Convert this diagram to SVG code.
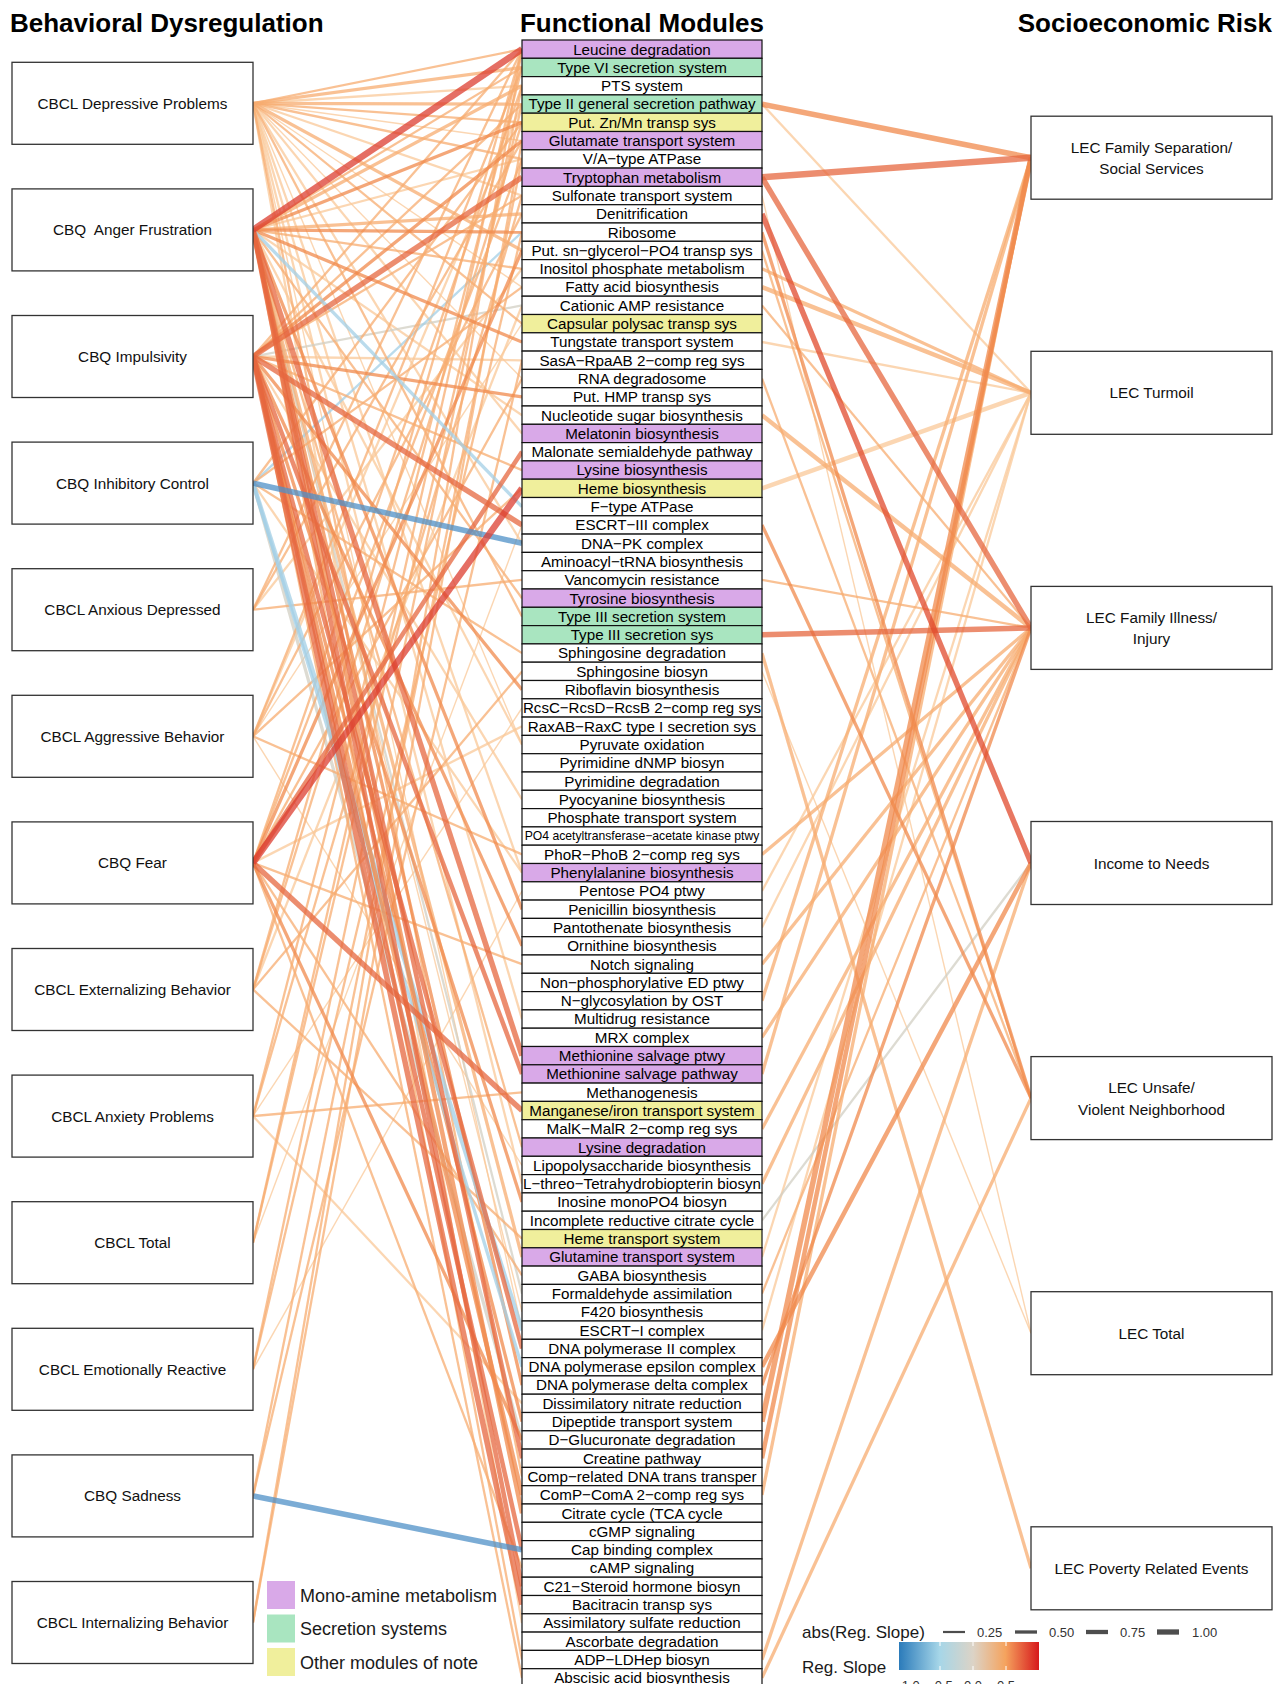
<svg xmlns="http://www.w3.org/2000/svg" width="1275" height="1684" viewBox="0 0 1275 1684">
<defs>
<linearGradient id="slopeGrad" x1="0" y1="0" x2="1" y2="0">
<stop offset="0" stop-color="#2b7bba"/>
<stop offset="0.29" stop-color="#a6d6e8"/>
<stop offset="0.53" stop-color="#dcd3c6"/>
<stop offset="0.76" stop-color="#f5a35e"/>
<stop offset="1" stop-color="#d7191c"/>
</linearGradient>
</defs>
<style>
.bx{fill:#fff;stroke:#333;stroke-width:1.3}
.bt{font-family:"Liberation Sans",Arial,sans-serif;font-size:15.3px;fill:#111;text-anchor:middle}
.ttl{font-family:"Liberation Sans",Arial,sans-serif;font-weight:bold;font-size:26px;fill:#000}
.md rect{stroke:#111;stroke-width:1.2}
.mt{font-family:"Liberation Sans",Arial,sans-serif;font-size:15.2px;fill:#000;text-anchor:middle}
.pu{fill:#d9a9e8}.gr{fill:#a9e5c0}.ye{fill:#f0ef9c}.wh{fill:#fff}
#connectors path{fill:none;stroke-opacity:0.75}
.c1{stroke:#fac898}.c2{stroke:#f7ac70}.c3{stroke:#f08a4c}.c4{stroke:#e5673f}.c5{stroke:#dc3d30}
.b1{stroke:#a3cfe5}.b2{stroke:#4f90c7}.g{stroke:#d2cfc3}
.w1{stroke-width:1.4}.w2{stroke-width:2.3}.w3{stroke-width:3.3}.w4{stroke-width:4.5}.w5{stroke-width:5.5}.w6{stroke-width:6.5}
.lg{font-family:"Liberation Sans",Arial,sans-serif;font-size:18px;fill:#1a1a1a}
.lg2{font-family:"Liberation Sans",Arial,sans-serif;font-size:17px;fill:#1a1a1a}
.lg3{font-family:"Liberation Sans",Arial,sans-serif;font-size:13px;fill:#333}
</style>
<rect width="1275" height="1684" fill="#fff"/>
<text class="ttl" x="10" y="31.5">Behavioral Dysregulation</text>
<text class="ttl" x="642" y="31.5" text-anchor="middle">Functional Modules</text>
<text class="ttl" x="1272" y="31.5" text-anchor="end">Socioeconomic Risk</text>

<g id="connectors">
<path class="c1 w2" d="M253 103.3L522 85.8"/>
<path class="c1 w1" d="M253 103.3L522 140.7"/>
<path class="c1 w2" d="M253 103.3L522 195.6"/>
<path class="c1 w1" d="M253 103.3L522 287.1"/>
<path class="c1 w1" d="M253 103.3L522 378.6"/>
<path class="c1 w2" d="M253 103.3L522 543.3"/>
<path class="c1 w1" d="M253 103.3L522 744.6"/>
<path class="c1 w2" d="M253 103.3L522 1019.1"/>
<path class="c1 w1" d="M253 103.3L522 1330.2"/>
<path class="c1 w2" d="M253 103.3L522 1623"/>
<path class="c1 w2" d="M253 229.9L522 159"/>
<path class="c1 w2" d="M253 609.7L522 268.8"/>
<path class="c1 w2" d="M253 736.3L522 104.1"/>
<path class="c1 w1" d="M253 736.3L522 323.7"/>
<path class="c1 w1" d="M253 736.3L522 1165.5"/>
<path class="c1 w2" d="M253 862.9L522 726.3"/>
<path class="c1 w2" d="M253 989.5L522 305.4"/>
<path class="c1 w1" d="M253 1116.1L522 708"/>
<path class="c1 w2" d="M253 1116.1L522 1403.4"/>
<path class="c1 w1" d="M253 1242.7L522 525"/>
<path class="c1 w1" d="M253 1369.3L522 891"/>
<path class="c1 w2" d="M253 103.3L522 433.5"/>
<path class="c1 w2" d="M253 103.3L522 872.7"/>
<path class="c1 w2" d="M253 103.3L522 1183.8"/>
<path class="c1 w2" d="M253 229.9L522 415.2"/>
<path class="c1 w2" d="M253 229.9L522 744.6"/>
<path class="c1 w1" d="M253 229.9L522 1311.9"/>
<path class="c1 w2" d="M253 356.5L522 360.3"/>
<path class="c1 w2" d="M253 356.5L522 799.5"/>
<path class="c1 w2" d="M253 483.1L522 872.7"/>
<path class="g w2" d="M253 356.5L522 305.4"/>
<path class="g w2" d="M253 229.9L522 1293.6"/>
<path class="g w3" d="M253 483.1L522 1440"/>
<path class="b1 w2" d="M253 483.1L522 232.2"/>
<path class="c2 w2" d="M253 103.3L522 49.2"/>
<path class="c2 w3" d="M253 103.3L522 67.5"/>
<path class="c2 w3" d="M253 103.3L522 104.1"/>
<path class="c2 w2" d="M253 103.3L522 122.4"/>
<path class="c2 w2" d="M253 103.3L522 159"/>
<path class="c2 w3" d="M253 103.3L522 250.5"/>
<path class="c2 w2" d="M253 103.3L522 323.7"/>
<path class="c2 w2" d="M253 103.3L522 616.5"/>
<path class="c2 w2" d="M253 103.3L522 1476.6"/>
<path class="c2 w2" d="M253 229.9L522 67.5"/>
<path class="c2 w3" d="M253 229.9L522 85.8"/>
<path class="c2 w3" d="M253 229.9L522 213.9"/>
<path class="c2 w2" d="M253 229.9L522 268.8"/>
<path class="c2 w2" d="M253 229.9L522 598.2"/>
<path class="c2 w2" d="M253 229.9L522 1147.2"/>
<path class="c2 w3" d="M253 229.9L522 1257"/>
<path class="c2 w2" d="M253 229.9L522 1659.6"/>
<path class="c2 w2" d="M253 356.5L522 49.2"/>
<path class="c2 w2" d="M253 356.5L522 104.1"/>
<path class="c2 w2" d="M253 356.5L522 195.6"/>
<path class="c2 w2" d="M253 356.5L522 470.1"/>
<path class="c2 w2" d="M253 356.5L522 1677.9"/>
<path class="c2 w2" d="M253 483.1L522 122.4"/>
<path class="c2 w2" d="M253 483.1L522 287.1"/>
<path class="c2 w2" d="M253 483.1L522 653.1"/>
<path class="c2 w2" d="M253 609.7L522 49.2"/>
<path class="c2 w2" d="M253 609.7L522 140.7"/>
<path class="c2 w2" d="M253 609.7L522 579.9"/>
<path class="c2 w2" d="M253 736.3L522 67.5"/>
<path class="c2 w2" d="M253 736.3L522 213.9"/>
<path class="c2 w2" d="M253 736.3L522 488.4"/>
<path class="c2 w2" d="M253 736.3L522 854.4"/>
<path class="c2 w2" d="M253 862.9L522 85.8"/>
<path class="c2 w2" d="M253 862.9L522 159"/>
<path class="c2 w2" d="M253 862.9L522 378.6"/>
<path class="c2 w2" d="M253 862.9L522 964.2"/>
<path class="c2 w2" d="M253 862.9L522 1275.3"/>
<path class="c2 w2" d="M253 862.9L522 1568.1"/>
<path class="c2 w2" d="M253 989.5L522 49.2"/>
<path class="c2 w2" d="M253 989.5L522 122.4"/>
<path class="c2 w2" d="M253 989.5L522 671.4"/>
<path class="c2 w2" d="M253 989.5L522 1238.7"/>
<path class="c2 w2" d="M253 1116.1L522 67.5"/>
<path class="c2 w2" d="M253 1116.1L522 195.6"/>
<path class="c2 w2" d="M253 1116.1L522 1092.3"/>
<path class="c2 w2" d="M253 1242.7L522 49.2"/>
<path class="c2 w2" d="M253 1242.7L522 104.1"/>
<path class="c2 w2" d="M253 1369.3L522 85.8"/>
<path class="c2 w2" d="M253 1369.3L522 232.2"/>
<path class="c2 w2" d="M253 1495.9L522 360.3"/>
<path class="c2 w2" d="M253 1495.9L522 159"/>
<path class="c2 w2" d="M253 1622.5L522 49.2"/>
<path class="c2 w2" d="M253 1622.5L522 140.7"/>
<path class="c3 w3" d="M253 229.9L522 122.4"/>
<path class="c3 w3" d="M253 229.9L522 232.2"/>
<path class="c3 w3" d="M253 229.9L522 342"/>
<path class="c3 w3" d="M253 229.9L522 909.3"/>
<path class="c3 w3" d="M253 229.9L522 1385.1"/>
<path class="c3 w3" d="M253 356.5L522 140.7"/>
<path class="c3 w3" d="M253 356.5L522 396.9"/>
<path class="c3 w3" d="M253 356.5L522 689.7"/>
<path class="c3 w3" d="M253 356.5L522 945.9"/>
<path class="c3 w3" d="M253 356.5L522 1202.1"/>
<path class="c3 w3" d="M253 356.5L522 1421.7"/>
<path class="c3 w3" d="M253 862.9L522 250.5"/>
<path class="c3 w3" d="M253 862.9L522 1440"/>
<path class="b1 w3" d="M253 229.9L522 506.7"/>
<path class="b1 w4" d="M253 483.1L522 1330.2"/>
<path class="b1 w3" d="M253 483.1L522 1366.8"/>
<path class="c3 w4" d="M253 229.9L522 1513.2"/>
<path class="c3 w4" d="M253 356.5L522 1494.9"/>
<path class="c4 w4" d="M253 229.9L522 1458.3"/>
<path class="c4 w4" d="M253 229.9L522 1586.4"/>
<path class="c4 w4" d="M253 356.5L522 1074"/>
<path class="c4 w4" d="M253 356.5L522 1348.5"/>
<path class="c4 w4" d="M253 356.5L522 1549.8"/>
<path class="c4 w5" d="M253 356.5L522 1604.7"/>
<path class="c4 w5" d="M253 229.9L522 1055.7"/>
<path class="c4 w4" d="M253 862.9L522 451.8"/>
<path class="c4 w5" d="M253 862.9L522 1110.6"/>
<path class="c4 w5" d="M253 356.5L522 177.3"/>
<path class="c4 w5" d="M253 356.5L522 525"/>
<path class="b2 w5" d="M253 483.1L522 543.3"/>
<path class="b2 w5" d="M253 1495.9L522 1549.8"/>
<path class="c5 w6" d="M253 229.9L522 49.2"/>
<path class="c5 w6" d="M253 862.9L522 488.4"/>
<path class="c1 w2" d="M762 104.1L1031 392.8"/>
<path class="c1 w1" d="M762 195.6L1031 1333.2"/>
<path class="c1 w2" d="M762 342L1031 392.8"/>
<path class="c1 w1" d="M762 671.4L1031 1333.2"/>
<path class="c1 w2" d="M762 891L1031 392.8"/>
<path class="c1 w2" d="M762 927.6L1031 392.8"/>
<path class="c1 w2" d="M762 1257L1031 392.8"/>
<path class="c1 w2" d="M762 1330.2L1031 392.8"/>
<path class="c1 w4" d="M762 488.4L1031 392.8"/>
<path class="g w2" d="M762 1220.4L1031 863"/>
<path class="c2 w2" d="M762 250.5L1031 1098.1"/>
<path class="c2 w3" d="M762 268.8L1031 392.8"/>
<path class="c2 w4" d="M762 287.1L1031 392.8"/>
<path class="c2 w2" d="M762 305.4L1031 627.9"/>
<path class="c2 w2" d="M762 378.6L1031 1098.1"/>
<path class="c2 w4" d="M762 415.2L1031 627.9"/>
<path class="c2 w2" d="M762 579.9L1031 627.9"/>
<path class="c2 w3" d="M762 653.1L1031 1568.3"/>
<path class="c2 w3" d="M762 854.4L1031 627.9"/>
<path class="c2 w3" d="M762 964.2L1031 627.9"/>
<path class="c2 w3" d="M762 1000.8L1031 157.7"/>
<path class="c2 w3" d="M762 1037.4L1031 627.9"/>
<path class="c2 w3" d="M762 1074L1031 157.7"/>
<path class="c2 w3" d="M762 1128.9L1031 627.9"/>
<path class="c2 w3" d="M762 1183.8L1031 627.9"/>
<path class="c2 w2" d="M762 1293.6L1031 627.9"/>
<path class="c2 w3" d="M762 1494.9L1031 157.7"/>
<path class="c2 w3" d="M762 1659.6L1031 863"/>
<path class="c2 w3" d="M762 1677.9L1031 1098.1"/>
<path class="c3 w3" d="M762 232.2L1031 1098.1"/>
<path class="c3 w3" d="M762 525L1031 1098.1"/>
<path class="c3 w3" d="M762 1385.1L1031 627.9"/>
<path class="c3 w4" d="M762 1366.8L1031 863"/>
<path class="c3 w4" d="M762 1458.3L1031 157.7"/>
<path class="c3 w5" d="M762 1421.7L1031 157.7"/>
<path class="c3 w5" d="M762 104.1L1031 157.7"/>
<path class="c4 w5" d="M762 177.3L1031 627.9"/>
<path class="c4 w5" d="M762 634.8L1031 627.9"/>
<path class="c4 w6" d="M762 177.3L1031 157.7"/>
<path class="c5 w5" d="M762 213.9L1031 863" style="stroke:#e04a2c"/>
</g>

<g id="bd-depressive"><rect class="bx" x="12" y="62.3" width="241" height="82"/><text class="bt" x="132.5" y="108.7">CBCL Depressive Problems</text></g>
<g id="bd-anger"><rect class="bx" x="12" y="188.9" width="241" height="82"/><text class="bt" x="132.5" y="235.3" xml:space="preserve">CBQ  Anger Frustration</text></g>
<g id="bd-impulsivity"><rect class="bx" x="12" y="315.5" width="241" height="82"/><text class="bt" x="132.5" y="361.9">CBQ Impulsivity</text></g>
<g id="bd-inhibitory"><rect class="bx" x="12" y="442.1" width="241" height="82"/><text class="bt" x="132.5" y="488.5">CBQ Inhibitory Control</text></g>
<g id="bd-anxious"><rect class="bx" x="12" y="568.7" width="241" height="82"/><text class="bt" x="132.5" y="615.1">CBCL Anxious Depressed</text></g>
<g id="bd-aggressive"><rect class="bx" x="12" y="695.3" width="241" height="82"/><text class="bt" x="132.5" y="741.7">CBCL Aggressive Behavior</text></g>
<g id="bd-fear"><rect class="bx" x="12" y="821.9" width="241" height="82"/><text class="bt" x="132.5" y="868.3">CBQ Fear</text></g>
<g id="bd-externalizing"><rect class="bx" x="12" y="948.5" width="241" height="82"/><text class="bt" x="132.5" y="994.9">CBCL Externalizing Behavior</text></g>
<g id="bd-anxiety"><rect class="bx" x="12" y="1075.1" width="241" height="82"/><text class="bt" x="132.5" y="1121.5">CBCL Anxiety Problems</text></g>
<g id="bd-total"><rect class="bx" x="12" y="1201.7" width="241" height="82"/><text class="bt" x="132.5" y="1248.1">CBCL Total</text></g>
<g id="bd-emotional"><rect class="bx" x="12" y="1328.3" width="241" height="82"/><text class="bt" x="132.5" y="1374.7">CBCL Emotionally Reactive</text></g>
<g id="bd-sadness"><rect class="bx" x="12" y="1454.9" width="241" height="82"/><text class="bt" x="132.5" y="1501.3">CBQ Sadness</text></g>
<g id="bd-internalizing"><rect class="bx" x="12" y="1581.5" width="241" height="82"/><text class="bt" x="132.5" y="1627.9">CBCL Internalizing Behavior</text></g>

<g id="se-family-separation"><rect class="bx" x="1031" y="116.2" width="241" height="83"/><text class="bt" x="1151.5" y="152.8">LEC Family Separation/</text><text class="bt" x="1151.5" y="174.2">Social Services</text></g>
<g id="se-turmoil"><rect class="bx" x="1031" y="351.3" width="241" height="83"/><text class="bt" x="1151.5" y="398.3">LEC Turmoil</text></g>
<g id="se-family-illness"><rect class="bx" x="1031" y="586.4" width="241" height="83"/><text class="bt" x="1151.5" y="622.8">LEC Family Illness/</text><text class="bt" x="1151.5" y="644.1">Injury</text></g>
<g id="se-income"><rect class="bx" x="1031" y="821.5" width="241" height="83"/><text class="bt" x="1151.5" y="868.5">Income to Needs</text></g>
<g id="se-unsafe"><rect class="bx" x="1031" y="1056.6" width="241" height="83"/><text class="bt" x="1151.5" y="1092.9">LEC Unsafe/</text><text class="bt" x="1151.5" y="1114.5">Violent Neighborhood</text></g>
<g id="se-lec-total"><rect class="bx" x="1031" y="1291.7" width="241" height="83"/><text class="bt" x="1151.5" y="1338.7">LEC Total</text></g>
<g id="se-poverty"><rect class="bx" x="1031" y="1526.8" width="241" height="83"/><text class="bt" x="1151.5" y="1573.8">LEC Poverty Related Events</text></g>

<g id="fm-00" class="md"><rect class="pu" x="522" y="40" width="240" height="18.3"/><text class="mt" x="642" y="54.5">Leucine degradation</text></g>
<g id="fm-01" class="md"><rect class="gr" x="522" y="58.3" width="240" height="18.3"/><text class="mt" x="642" y="72.8">Type VI secretion system</text></g>
<g id="fm-02" class="md"><rect class="wh" x="522" y="76.6" width="240" height="18.3"/><text class="mt" x="642" y="91.1">PTS system</text></g>
<g id="fm-03" class="md"><rect class="gr" x="522" y="94.9" width="240" height="18.3"/><text class="mt" x="642" y="109.4">Type II general secretion pathway</text></g>
<g id="fm-04" class="md"><rect class="ye" x="522" y="113.2" width="240" height="18.3"/><text class="mt" x="642" y="127.7">Put. Zn/Mn transp sys</text></g>
<g id="fm-05" class="md"><rect class="pu" x="522" y="131.5" width="240" height="18.3"/><text class="mt" x="642" y="146">Glutamate transport system</text></g>
<g id="fm-06" class="md"><rect class="wh" x="522" y="149.8" width="240" height="18.3"/><text class="mt" x="642" y="164.3">V/A−type ATPase</text></g>
<g id="fm-07" class="md"><rect class="pu" x="522" y="168.1" width="240" height="18.3"/><text class="mt" x="642" y="182.6">Tryptophan metabolism</text></g>
<g id="fm-08" class="md"><rect class="wh" x="522" y="186.4" width="240" height="18.3"/><text class="mt" x="642" y="200.9">Sulfonate transport system</text></g>
<g id="fm-09" class="md"><rect class="wh" x="522" y="204.7" width="240" height="18.3"/><text class="mt" x="642" y="219.2">Denitrification</text></g>
<g id="fm-10" class="md"><rect class="wh" x="522" y="223" width="240" height="18.3"/><text class="mt" x="642" y="237.5">Ribosome</text></g>
<g id="fm-11" class="md"><rect class="wh" x="522" y="241.3" width="240" height="18.3"/><text class="mt" x="642" y="255.8">Put. sn−glycerol−PO4 transp sys</text></g>
<g id="fm-12" class="md"><rect class="wh" x="522" y="259.6" width="240" height="18.3"/><text class="mt" x="642" y="274.1">Inositol phosphate metabolism</text></g>
<g id="fm-13" class="md"><rect class="wh" x="522" y="277.9" width="240" height="18.3"/><text class="mt" x="642" y="292.4">Fatty acid biosynthesis</text></g>
<g id="fm-14" class="md"><rect class="wh" x="522" y="296.2" width="240" height="18.3"/><text class="mt" x="642" y="310.7">Cationic AMP resistance</text></g>
<g id="fm-15" class="md"><rect class="ye" x="522" y="314.5" width="240" height="18.3"/><text class="mt" x="642" y="329">Capsular polysac transp sys</text></g>
<g id="fm-16" class="md"><rect class="wh" x="522" y="332.8" width="240" height="18.3"/><text class="mt" x="642" y="347.3">Tungstate transport system</text></g>
<g id="fm-17" class="md"><rect class="wh" x="522" y="351.1" width="240" height="18.3"/><text class="mt" x="642" y="365.6">SasA−RpaAB 2−comp reg sys</text></g>
<g id="fm-18" class="md"><rect class="wh" x="522" y="369.4" width="240" height="18.3"/><text class="mt" x="642" y="383.9">RNA degradosome</text></g>
<g id="fm-19" class="md"><rect class="wh" x="522" y="387.7" width="240" height="18.3"/><text class="mt" x="642" y="402.2">Put. HMP transp sys</text></g>
<g id="fm-20" class="md"><rect class="wh" x="522" y="406" width="240" height="18.3"/><text class="mt" x="642" y="420.5">Nucleotide sugar biosynthesis</text></g>
<g id="fm-21" class="md"><rect class="pu" x="522" y="424.3" width="240" height="18.3"/><text class="mt" x="642" y="438.8">Melatonin biosynthesis</text></g>
<g id="fm-22" class="md"><rect class="wh" x="522" y="442.6" width="240" height="18.3"/><text class="mt" x="642" y="457.1">Malonate semialdehyde pathway</text></g>
<g id="fm-23" class="md"><rect class="pu" x="522" y="460.9" width="240" height="18.3"/><text class="mt" x="642" y="475.4">Lysine biosynthesis</text></g>
<g id="fm-24" class="md"><rect class="ye" x="522" y="479.2" width="240" height="18.3"/><text class="mt" x="642" y="493.7">Heme biosynthesis</text></g>
<g id="fm-25" class="md"><rect class="wh" x="522" y="497.5" width="240" height="18.3"/><text class="mt" x="642" y="512">F−type ATPase</text></g>
<g id="fm-26" class="md"><rect class="wh" x="522" y="515.8" width="240" height="18.3"/><text class="mt" x="642" y="530.3">ESCRT−III complex</text></g>
<g id="fm-27" class="md"><rect class="wh" x="522" y="534.1" width="240" height="18.3"/><text class="mt" x="642" y="548.6">DNA−PK complex</text></g>
<g id="fm-28" class="md"><rect class="wh" x="522" y="552.4" width="240" height="18.3"/><text class="mt" x="642" y="566.9">Aminoacyl−tRNA biosynthesis</text></g>
<g id="fm-29" class="md"><rect class="wh" x="522" y="570.7" width="240" height="18.3"/><text class="mt" x="642" y="585.2">Vancomycin resistance</text></g>
<g id="fm-30" class="md"><rect class="pu" x="522" y="589" width="240" height="18.3"/><text class="mt" x="642" y="603.5">Tyrosine biosynthesis</text></g>
<g id="fm-31" class="md"><rect class="gr" x="522" y="607.3" width="240" height="18.3"/><text class="mt" x="642" y="621.8">Type III secretion system</text></g>
<g id="fm-32" class="md"><rect class="gr" x="522" y="625.6" width="240" height="18.3"/><text class="mt" x="642" y="640.1">Type III secretion sys</text></g>
<g id="fm-33" class="md"><rect class="wh" x="522" y="643.9" width="240" height="18.3"/><text class="mt" x="642" y="658.4">Sphingosine degradation</text></g>
<g id="fm-34" class="md"><rect class="wh" x="522" y="662.2" width="240" height="18.3"/><text class="mt" x="642" y="676.7">Sphingosine biosyn</text></g>
<g id="fm-35" class="md"><rect class="wh" x="522" y="680.5" width="240" height="18.3"/><text class="mt" x="642" y="695">Riboflavin biosynthesis</text></g>
<g id="fm-36" class="md"><rect class="wh" x="522" y="698.8" width="240" height="18.3"/><text class="mt" x="642" y="713.3" textLength="238" lengthAdjust="spacingAndGlyphs">RcsC−RcsD−RcsB 2−comp reg sys</text></g>
<g id="fm-37" class="md"><rect class="wh" x="522" y="717.1" width="240" height="18.3"/><text class="mt" x="642" y="731.6">RaxAB−RaxC type I secretion sys</text></g>
<g id="fm-38" class="md"><rect class="wh" x="522" y="735.4" width="240" height="18.3"/><text class="mt" x="642" y="749.9">Pyruvate oxidation</text></g>
<g id="fm-39" class="md"><rect class="wh" x="522" y="753.7" width="240" height="18.3"/><text class="mt" x="642" y="768.2">Pyrimidine dNMP biosyn</text></g>
<g id="fm-40" class="md"><rect class="wh" x="522" y="772" width="240" height="18.3"/><text class="mt" x="642" y="786.5">Pyrimidine degradation</text></g>
<g id="fm-41" class="md"><rect class="wh" x="522" y="790.3" width="240" height="18.3"/><text class="mt" x="642" y="804.8">Pyocyanine biosynthesis</text></g>
<g id="fm-42" class="md"><rect class="wh" x="522" y="808.6" width="240" height="18.3"/><text class="mt" x="642" y="823.1">Phosphate transport system</text></g>
<g id="fm-43" class="md"><rect class="wh" x="522" y="826.9" width="240" height="18.3"/><text class="mt" x="642" y="840" style="font-size:12.2px">PO4 acetyltransferase−acetate kinase ptwy</text></g>
<g id="fm-44" class="md"><rect class="wh" x="522" y="845.2" width="240" height="18.3"/><text class="mt" x="642" y="859.7">PhoR−PhoB 2−comp reg sys</text></g>
<g id="fm-45" class="md"><rect class="pu" x="522" y="863.5" width="240" height="18.3"/><text class="mt" x="642" y="878">Phenylalanine biosynthesis</text></g>
<g id="fm-46" class="md"><rect class="wh" x="522" y="881.8" width="240" height="18.3"/><text class="mt" x="642" y="896.3">Pentose PO4 ptwy</text></g>
<g id="fm-47" class="md"><rect class="wh" x="522" y="900.1" width="240" height="18.3"/><text class="mt" x="642" y="914.6">Penicillin biosynthesis</text></g>
<g id="fm-48" class="md"><rect class="wh" x="522" y="918.4" width="240" height="18.3"/><text class="mt" x="642" y="932.9">Pantothenate biosynthesis</text></g>
<g id="fm-49" class="md"><rect class="wh" x="522" y="936.7" width="240" height="18.3"/><text class="mt" x="642" y="951.2">Ornithine biosynthesis</text></g>
<g id="fm-50" class="md"><rect class="wh" x="522" y="955" width="240" height="18.3"/><text class="mt" x="642" y="969.5">Notch signaling</text></g>
<g id="fm-51" class="md"><rect class="wh" x="522" y="973.3" width="240" height="18.3"/><text class="mt" x="642" y="987.8">Non−phosphorylative ED ptwy</text></g>
<g id="fm-52" class="md"><rect class="wh" x="522" y="991.6" width="240" height="18.3"/><text class="mt" x="642" y="1006.1">N−glycosylation by OST</text></g>
<g id="fm-53" class="md"><rect class="wh" x="522" y="1009.9" width="240" height="18.3"/><text class="mt" x="642" y="1024.4">Multidrug resistance</text></g>
<g id="fm-54" class="md"><rect class="wh" x="522" y="1028.2" width="240" height="18.3"/><text class="mt" x="642" y="1042.7">MRX complex</text></g>
<g id="fm-55" class="md"><rect class="pu" x="522" y="1046.5" width="240" height="18.3"/><text class="mt" x="642" y="1061">Methionine salvage ptwy</text></g>
<g id="fm-56" class="md"><rect class="pu" x="522" y="1064.8" width="240" height="18.3"/><text class="mt" x="642" y="1079.3">Methionine salvage pathway</text></g>
<g id="fm-57" class="md"><rect class="wh" x="522" y="1083.1" width="240" height="18.3"/><text class="mt" x="642" y="1097.6">Methanogenesis</text></g>
<g id="fm-58" class="md"><rect class="ye" x="522" y="1101.4" width="240" height="18.3"/><text class="mt" x="642" y="1115.9">Manganese/iron transport system</text></g>
<g id="fm-59" class="md"><rect class="wh" x="522" y="1119.7" width="240" height="18.3"/><text class="mt" x="642" y="1134.2">MalK−MalR 2−comp reg sys</text></g>
<g id="fm-60" class="md"><rect class="pu" x="522" y="1138" width="240" height="18.3"/><text class="mt" x="642" y="1152.5">Lysine degradation</text></g>
<g id="fm-61" class="md"><rect class="wh" x="522" y="1156.3" width="240" height="18.3"/><text class="mt" x="642" y="1170.8">Lipopolysaccharide biosynthesis</text></g>
<g id="fm-62" class="md"><rect class="wh" x="522" y="1174.6" width="240" height="18.3"/><text class="mt" x="642" y="1189.1" textLength="238" lengthAdjust="spacingAndGlyphs">L−threo−Tetrahydrobiopterin biosyn</text></g>
<g id="fm-63" class="md"><rect class="wh" x="522" y="1192.9" width="240" height="18.3"/><text class="mt" x="642" y="1207.4">Inosine monoPO4 biosyn</text></g>
<g id="fm-64" class="md"><rect class="wh" x="522" y="1211.2" width="240" height="18.3"/><text class="mt" x="642" y="1225.7">Incomplete reductive citrate cycle</text></g>
<g id="fm-65" class="md"><rect class="ye" x="522" y="1229.5" width="240" height="18.3"/><text class="mt" x="642" y="1244">Heme transport system</text></g>
<g id="fm-66" class="md"><rect class="pu" x="522" y="1247.8" width="240" height="18.3"/><text class="mt" x="642" y="1262.3">Glutamine transport system</text></g>
<g id="fm-67" class="md"><rect class="wh" x="522" y="1266.1" width="240" height="18.3"/><text class="mt" x="642" y="1280.6">GABA biosynthesis</text></g>
<g id="fm-68" class="md"><rect class="wh" x="522" y="1284.4" width="240" height="18.3"/><text class="mt" x="642" y="1298.9">Formaldehyde assimilation</text></g>
<g id="fm-69" class="md"><rect class="wh" x="522" y="1302.7" width="240" height="18.3"/><text class="mt" x="642" y="1317.2">F420 biosynthesis</text></g>
<g id="fm-70" class="md"><rect class="wh" x="522" y="1321" width="240" height="18.3"/><text class="mt" x="642" y="1335.5">ESCRT−I complex</text></g>
<g id="fm-71" class="md"><rect class="wh" x="522" y="1339.3" width="240" height="18.3"/><text class="mt" x="642" y="1353.8">DNA polymerase II complex</text></g>
<g id="fm-72" class="md"><rect class="wh" x="522" y="1357.6" width="240" height="18.3"/><text class="mt" x="642" y="1372.1">DNA polymerase epsilon complex</text></g>
<g id="fm-73" class="md"><rect class="wh" x="522" y="1375.9" width="240" height="18.3"/><text class="mt" x="642" y="1390.4">DNA polymerase delta complex</text></g>
<g id="fm-74" class="md"><rect class="wh" x="522" y="1394.2" width="240" height="18.3"/><text class="mt" x="642" y="1408.7">Dissimilatory nitrate reduction</text></g>
<g id="fm-75" class="md"><rect class="wh" x="522" y="1412.5" width="240" height="18.3"/><text class="mt" x="642" y="1427">Dipeptide transport system</text></g>
<g id="fm-76" class="md"><rect class="wh" x="522" y="1430.8" width="240" height="18.3"/><text class="mt" x="642" y="1445.3">D−Glucuronate degradation</text></g>
<g id="fm-77" class="md"><rect class="wh" x="522" y="1449.1" width="240" height="18.3"/><text class="mt" x="642" y="1463.6">Creatine pathway</text></g>
<g id="fm-78" class="md"><rect class="wh" x="522" y="1467.4" width="240" height="18.3"/><text class="mt" x="642" y="1481.9">Comp−related DNA trans transper</text></g>
<g id="fm-79" class="md"><rect class="wh" x="522" y="1485.7" width="240" height="18.3"/><text class="mt" x="642" y="1500.2">ComP−ComA 2−comp reg sys</text></g>
<g id="fm-80" class="md"><rect class="wh" x="522" y="1504" width="240" height="18.3"/><text class="mt" x="642" y="1518.5">Citrate cycle (TCA cycle</text></g>
<g id="fm-81" class="md"><rect class="wh" x="522" y="1522.3" width="240" height="18.3"/><text class="mt" x="642" y="1536.8">cGMP signaling</text></g>
<g id="fm-82" class="md"><rect class="wh" x="522" y="1540.6" width="240" height="18.3"/><text class="mt" x="642" y="1555.1">Cap binding complex</text></g>
<g id="fm-83" class="md"><rect class="wh" x="522" y="1558.9" width="240" height="18.3"/><text class="mt" x="642" y="1573.4">cAMP signaling</text></g>
<g id="fm-84" class="md"><rect class="wh" x="522" y="1577.2" width="240" height="18.3"/><text class="mt" x="642" y="1591.7">C21−Steroid hormone biosyn</text></g>
<g id="fm-85" class="md"><rect class="wh" x="522" y="1595.5" width="240" height="18.3"/><text class="mt" x="642" y="1610">Bacitracin transp sys</text></g>
<g id="fm-86" class="md"><rect class="wh" x="522" y="1613.8" width="240" height="18.3"/><text class="mt" x="642" y="1628.3">Assimilatory sulfate reduction</text></g>
<g id="fm-87" class="md"><rect class="wh" x="522" y="1632.1" width="240" height="18.3"/><text class="mt" x="642" y="1646.6">Ascorbate degradation</text></g>
<g id="fm-88" class="md"><rect class="wh" x="522" y="1650.4" width="240" height="18.3"/><text class="mt" x="642" y="1664.9">ADP−LDHep biosyn</text></g>
<g id="fm-89" class="md"><rect class="wh" x="522" y="1668.7" width="240" height="18.3"/><text class="mt" x="642" y="1683.2">Abscisic acid biosynthesis</text></g>

<g id="legend-categories">
<rect class="pu" x="267" y="1581" width="28" height="28"/>
<rect class="gr" x="267" y="1614.5" width="28" height="28"/>
<rect class="ye" x="267" y="1648" width="28" height="28"/>
<text class="lg" x="300" y="1601.5">Mono-amine metabolism</text>
<text class="lg" x="300" y="1635">Secretion systems</text>
<text class="lg" x="300" y="1668.5">Other modules of note</text>
</g>

<g id="legend-slope">
<text class="lg2" x="802" y="1638">abs(Reg. Slope)</text>
<line x1="943" y1="1632" x2="965" y2="1632" stroke="#4d4d4d" stroke-width="2.2"/>
<text class="lg3" x="977" y="1636.5">0.25</text>
<line x1="1015" y1="1632" x2="1037" y2="1632" stroke="#4d4d4d" stroke-width="3.3"/>
<text class="lg3" x="1049" y="1636.5">0.50</text>
<line x1="1086" y1="1632" x2="1108" y2="1632" stroke="#4d4d4d" stroke-width="4.3"/>
<text class="lg3" x="1120" y="1636.5">0.75</text>
<line x1="1157" y1="1632" x2="1179" y2="1632" stroke="#4d4d4d" stroke-width="5.3"/>
<text class="lg3" x="1192" y="1636.5">1.00</text>
<text class="lg2" x="802" y="1673">Reg. Slope</text>
<rect x="899" y="1642" width="140" height="28" fill="url(#slopeGrad)"/>
<g stroke="#fff" stroke-width="1">
<line x1="940" y1="1642" x2="940" y2="1646"/><line x1="940" y1="1666" x2="940" y2="1670"/>
<line x1="973" y1="1642" x2="973" y2="1646"/><line x1="973" y1="1666" x2="973" y2="1670"/>
<line x1="1006" y1="1642" x2="1006" y2="1646"/><line x1="1006" y1="1666" x2="1006" y2="1670"/>
</g>
<text class="lg3" x="907" y="1690" text-anchor="middle">−1.0</text>
<text class="lg3" x="940" y="1690" text-anchor="middle">−0.5</text>
<text class="lg3" x="973" y="1690" text-anchor="middle">0.0</text>
<text class="lg3" x="1006" y="1690" text-anchor="middle">0.5</text>
</g>
</svg>
